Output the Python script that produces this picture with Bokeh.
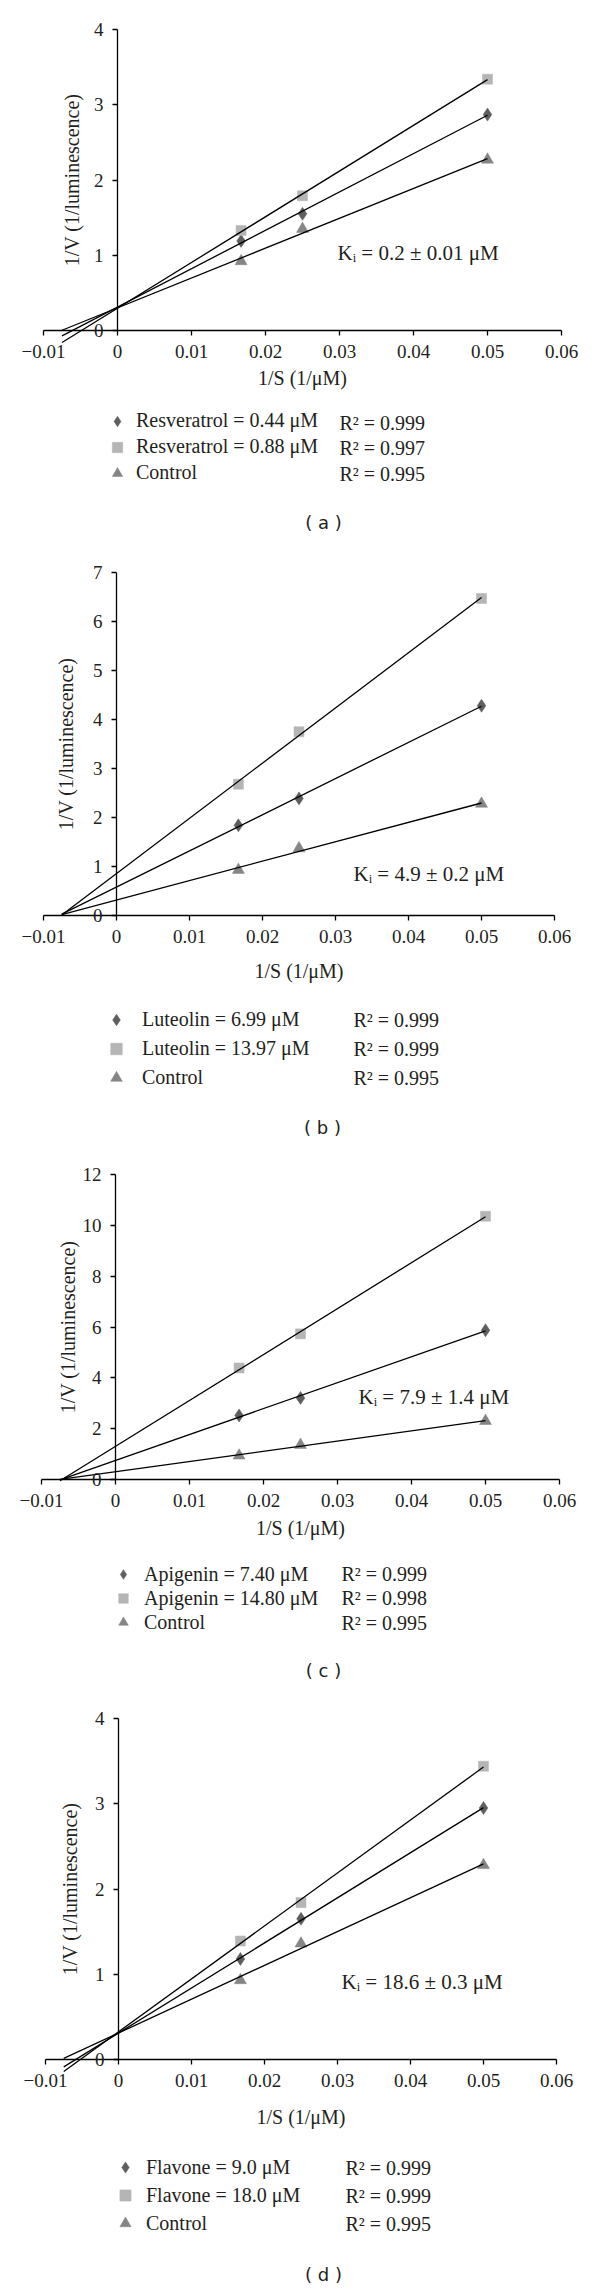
import numpy as np
from bokeh.plotting import figure
from bokeh.layouts import column
from bokeh.models import Range1d, FixedTicker, Label, Legend, LegendItem
from bokeh.embed import file_html
from bokeh.resources import INLINE

# ---------------- data ----------------
S_INV = [0.0167, 0.025, 0.05]  # 1/S (1/uM)
X_TICKS = [-0.01, 0.0, 0.01, 0.02, 0.03, 0.04, 0.05, 0.06]
X_TICK_LABELS = ["\u22120.01", "0", "0.01", "0.02", "0.03", "0.04", "0.05", "0.06"]
LINE_X_START = -0.0075  # where the fitted lines start (extrapolated)

# (a) resveratrol
A_Y_TICKS = [0, 1, 2, 3, 4]
A_LOW = [1.19, 1.55, 2.87]
A_HIGH = [1.33, 1.79, 3.34]
A_CONTROL = [0.92, 1.35, 2.27]
A_NAMES = ["Resveratrol = 0.44 \u03bcM", "Resveratrol = 0.88 \u03bcM", "Control"]
A_R2 = ["R\u00b2 = 0.999", "R\u00b2 = 0.997", "R\u00b2 = 0.995"]
A_KI = "K\u1d62 = 0.2 \u00b1 0.01 \u03bcM"
A_TAG = "( a )"

# (b) luteolin
B_Y_TICKS = [0, 1, 2, 3, 4, 5, 6, 7]
B_LOW = [1.84, 2.39, 4.28]
B_HIGH = [2.68, 3.75, 6.47]
B_CONTROL = [0.93, 1.37, 2.28]
B_NAMES = ["Luteolin = 6.99 \u03bcM", "Luteolin = 13.97 \u03bcM", "Control"]
B_R2 = ["R\u00b2 = 0.999", "R\u00b2 = 0.999", "R\u00b2 = 0.995"]
B_KI = "K\u1d62 = 4.9 \u00b1 0.2 \u03bcM"
B_TAG = "( b )"

# (c) apigenin
C_Y_TICKS = [0, 2, 4, 6, 8, 10, 12]
C_LOW = [2.52, 3.21, 5.87]
C_HIGH = [4.39, 5.73, 10.36]
C_CONTROL = [0.94, 1.36, 2.30]
C_NAMES = ["Apigenin = 7.40 \u03bcM", "Apigenin = 14.80 \u03bcM", "Control"]
C_R2 = ["R\u00b2 = 0.999", "R\u00b2 = 0.998", "R\u00b2 = 0.995"]
C_KI = "K\u1d62 = 7.9 \u00b1 1.4 \u03bcM"
C_TAG = "( c )"

# (d) flavone
D_Y_TICKS = [0, 1, 2, 3, 4]
D_LOW = [1.18, 1.65, 2.95]
D_HIGH = [1.39, 1.84, 3.44]
D_CONTROL = [0.93, 1.36, 2.28]
D_NAMES = ["Flavone = 9.0 \u03bcM", "Flavone = 18.0 \u03bcM", "Control"]
D_R2 = ["R\u00b2 = 0.999", "R\u00b2 = 0.999", "R\u00b2 = 0.995"]
D_KI = "K\u1d62 = 18.6 \u00b1 0.3 \u03bcM"
D_TAG = "( d )"

X_LABEL = "1/S (1/\u03bcM)"
Y_LABEL = "1/V (1/luminescence)"

# ---------------- style / layout ----------------
TEXT = "#231f20"
SERIF = "Liberation Serif"
DIAMOND_COLOR = "#5e5e5e"
SQUARE_COLOR = "#b5b5b5"
TRIANGLE_COLOR = "#858585"
W = 600
OFF = 0  # page offset of the layout

GEO = {
    "a": dict(top=0, h=555, xm1=43, x06=561, y0=330, ytop=29, ki=(337, 252),
              rows=(422, 473), mk_x=117, txt_x=136, r2_x=339, tag=(323, 522),
              ylab=8, xlab=6),
    "b": dict(top=555, h=595, xm1=43, x06=554, y0=915, ytop=572, ki=(353, 873),
              rows=(1019, 1077), mk_x=116, txt_x=142, r2_x=353, tag=(322, 1127),
              ylab=13, xlab=14),
    "c": dict(top=1150, h=550, xm1=41, x06=559, y0=1479, ytop=1174, ki=(358, 1396),
              rows=(1573, 1622), mk_x=123, txt_x=144, r2_x=341, tag=(323, 1670),
              ylab=1, xlab=7),
    "d": dict(top=1700, h=590, xm1=45, x06=556, y0=2059, ytop=1718, ki=(341, 1981),
              rows=(2167, 2223), mk_x=125, txt_x=146, r2_x=345, tag=(323, 2274),
              ylab=11, xlab=16),
}


def make_panel(g, y_ticks, low, high, control, names, r2, ki, tag):
    H = g["h"]
    ppx = (g["x06"] - g["xm1"]) / 0.07
    ppy = (g["y0"] - g["ytop"]) / y_ticks[-1]

    def dx(rx):
        return -0.01 + (rx - g["xm1"]) / ppx

    def dy(ry):
        return (g["y0"] - ry) / ppy

    p = figure(width=W, height=H,
               x_range=Range1d(dx(OFF), dx(OFF + W)),
               y_range=Range1d(dy(g["top"] + H), dy(g["top"])),
               output_backend="svg", toolbar_location=None, tools="",
               min_border=0)
    p.outline_line_color = None
    p.grid.visible = False
    p.background_fill_color = "white"
    p.border_fill_color = "white"

    xa = p.xaxis[0]
    xa.fixed_location = 0
    xa.bounds = (X_TICKS[0], X_TICKS[-1])
    xa.ticker = FixedTicker(ticks=X_TICKS, minor_ticks=[])
    xa.major_label_overrides = dict(zip(X_TICKS, X_TICK_LABELS))
    xa.axis_label = X_LABEL
    xa.axis_label_standoff = g["xlab"]

    ya = p.yaxis[0]
    ya.fixed_location = 0
    ya.bounds = (y_ticks[0], y_ticks[-1])
    ya.ticker = FixedTicker(ticks=y_ticks, minor_ticks=[])
    ya.axis_label = Y_LABEL
    ya.axis_label_standoff = g["ylab"]

    for ax in (xa, ya):
        ax.axis_line_color = "black"
        ax.axis_line_width = 1.3
        ax.major_tick_line_color = "black"
        ax.major_tick_line_width = 1.3
        ax.major_tick_in = 0
        ax.major_tick_out = 5
        ax.minor_tick_out = 0
        ax.minor_tick_in = 0
        ax.major_label_standoff = 9
        ax.major_label_text_font = SERIF
        ax.major_label_text_font_size = "19px"
        ax.major_label_text_color = TEXT
        ax.axis_label_text_font = SERIF
        ax.axis_label_text_font_size = "20px"
        ax.axis_label_text_font_style = "normal"
        ax.axis_label_text_color = TEXT

    series = [
        (low, "diamond", DIAMOND_COLOR, 13),
        (high, "square", SQUARE_COLOR, 10),
        (control, "triangle", TRIANGLE_COLOR, 12),
    ]
    rends = []
    for vals, marker, color, size in series:
        r = p.scatter(S_INV, vals, marker=marker, size=size,
                      fill_color=color, line_color=color, line_width=0.5)
        rends.append(r)
    for vals, _, _, _ in series:
        slope, icpt = np.polyfit(S_INV, vals, 1)
        xs = [LINE_X_START, S_INV[-1]]
        p.line(xs, [slope * x + icpt for x in xs], line_color="black", line_width=1.3)

    # legend (marker + name), R^2 column as labels
    gh = (g["rows"][1] - g["rows"][0]) / 2.0
    gw = 32
    vx = (g["mk_x"] - OFF) - gw / 2.0
    top_fig = g["rows"][0] - g["top"] - gh / 2.0
    vy = H - (top_fig + 3 * gh)
    legend = Legend(
        items=[LegendItem(label=n, renderers=[r]) for n, r in zip(names, rends)],
        location=(vx, vy), orientation="vertical",
        glyph_width=gw, glyph_height=int(round(gh)), label_height=int(round(gh)),
        label_width=20, spacing=0, padding=0, margin=0,
        label_standoff=max(0, int(round(g["txt_x"] - g["mk_x"] - gw / 2.0))),
        border_line_color=None, background_fill_alpha=0,
        label_text_font=SERIF, label_text_font_size="20px", label_text_color=TEXT,
    )
    p.add_layout(legend)

    for i, t in enumerate(r2):
        row_y = g["rows"][0] + i * gh
        p.add_layout(Label(x=dx(g["r2_x"]), y=dy(row_y), text=t,
                           text_baseline="middle", text_align="left",
                           text_font=SERIF, text_font_size="20px", text_color=TEXT))

    p.add_layout(Label(x=dx(g["ki"][0]), y=dy(g["ki"][1]), text=ki,
                       text_baseline="middle", text_align="left",
                       text_font=SERIF, text_font_size="21px", text_color=TEXT))
    p.add_layout(Label(x=dx(g["tag"][0]), y=dy(g["tag"][1]), text=tag,
                       text_baseline="middle", text_align="center",
                       text_font="DejaVu Sans", text_font_size="18px", text_color=TEXT))
    return p


pa = make_panel(GEO["a"], A_Y_TICKS, A_LOW, A_HIGH, A_CONTROL, A_NAMES, A_R2, A_KI, A_TAG)
pb = make_panel(GEO["b"], B_Y_TICKS, B_LOW, B_HIGH, B_CONTROL, B_NAMES, B_R2, B_KI, B_TAG)
pc = make_panel(GEO["c"], C_Y_TICKS, C_LOW, C_HIGH, C_CONTROL, C_NAMES, C_R2, C_KI, C_TAG)
pd = make_panel(GEO["d"], D_Y_TICKS, D_LOW, D_HIGH, D_CONTROL, D_NAMES, D_R2, D_KI, D_TAG)

layout = column(pa, pb, pc, pd, spacing=0)
open("out.html", "w").write(file_html(layout, INLINE))
